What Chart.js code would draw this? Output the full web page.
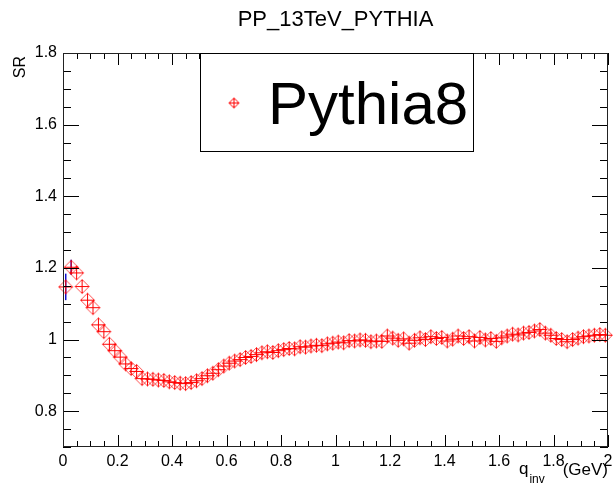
<!DOCTYPE html>
<html>
<head>
<meta charset="utf-8">
<script src="https://cdn.jsdelivr.net/npm/chart.js@4.4.1/dist/chart.umd.min.js"></script>
<style>
  html, body { margin: 0; padding: 0; background: #fff; }
  #wrap { width: 613px; height: 488px; }
</style>
</head>
<body>
<div id="wrap"><canvas id="c" width="613" height="488"></canvas></div>
<script>
// bin centres (GeV) and SR values
const qinv = [
  0.01, 0.03, 0.05, 0.07, 0.09, 0.11, 0.13, 0.15, 0.17, 0.19,
  0.21, 0.23, 0.25, 0.27, 0.29, 0.31, 0.33, 0.35, 0.37, 0.39,
  0.41, 0.43, 0.45, 0.47, 0.49, 0.51, 0.53, 0.55, 0.57, 0.59,
  0.61, 0.63, 0.65, 0.67, 0.69, 0.71, 0.73, 0.75, 0.77, 0.79,
  0.81, 0.83, 0.85, 0.87, 0.89, 0.91, 0.93, 0.95, 0.97, 0.99,
  1.01, 1.03, 1.05, 1.07, 1.09, 1.11, 1.13, 1.15, 1.17, 1.19,
  1.21, 1.23, 1.25, 1.27, 1.29, 1.31, 1.33, 1.35, 1.37, 1.39,
  1.41, 1.43, 1.45, 1.47, 1.49, 1.51, 1.53, 1.55, 1.57, 1.59,
  1.61, 1.63, 1.65, 1.67, 1.69, 1.71, 1.73, 1.75, 1.77, 1.79,
  1.81, 1.83, 1.85, 1.87, 1.89, 1.91, 1.93, 1.95, 1.97, 1.99
];
const srPythia8 = [
  1.147, 1.202, 1.186, 1.148, 1.110, 1.089, 1.041, 1.022, 0.987, 0.969,
  0.951, 0.932, 0.919, 0.911, 0.891, 0.890, 0.889, 0.887, 0.886, 0.882,
  0.880, 0.878, 0.877, 0.880, 0.885, 0.891, 0.899, 0.906, 0.916, 0.926,
  0.934, 0.940, 0.944, 0.950, 0.953, 0.958, 0.963, 0.966, 0.964, 0.969,
  0.972, 0.975, 0.974, 0.980, 0.979, 0.982, 0.984, 0.983, 0.988, 0.990,
  0.993, 0.991, 0.997, 0.996, 0.999, 0.998, 0.994, 0.996, 0.995, 1.010,
  1.004, 0.998, 1.002, 0.990, 0.998, 1.005, 1.000, 1.008, 1.003, 1.006,
  0.996, 1.001, 1.010, 1.003, 1.008, 0.996, 1.006, 0.999, 1.003, 0.995,
  1.005, 1.010, 1.015, 1.013, 1.018, 1.020, 1.024, 1.028, 1.018, 1.012,
  1.003, 1.000, 0.994, 1.000, 1.004, 1.008, 1.010, 1.012, 1.014, 1.012
];
// visible vertical errors (first bins only, others hidden by the markers)
const srErrors = [0.037, 0.021];

const xTicks = [0, 0.2, 0.4, 0.6, 0.8, 1, 1.2, 1.4, 1.6, 1.8, 2];
const yTicks = [0.8, 1, 1.2, 1.4, 1.6, 1.8];

const FONT = '"Liberation Sans", Arial, Helvetica, sans-serif';

function makeMarker(r, alpha) {
  const s = 2 * r + 3;
  const c = document.createElement('canvas');
  c.width = s; c.height = s;
  const g = c.getContext('2d');
  const m = s / 2;
  g.lineWidth = 1;
  g.strokeStyle = 'rgba(255,0,0,' + alpha + ')';
  g.beginPath();
  g.moveTo(m, m - r); g.lineTo(m + r, m); g.lineTo(m, m + r); g.lineTo(m - r, m);
  g.closePath();
  g.stroke();
  g.strokeStyle = '#ff0000';
  g.beginPath();
  g.moveTo(m - r, m); g.lineTo(m + r, m);
  g.moveTo(m, m - r); g.lineTo(m, m + r);
  g.stroke();
  return c;
}

const pointMarker = makeMarker(7, 0.7);
const legendMarker = makeMarker(5, 1);

// ROOT style frame: inward ticks on all four sides, legend box, titles
const rootStyle = {
  id: 'rootStyle',
  beforeDatasetsDraw(chart) {
    const ctx = chart.ctx, xs = chart.scales.x, ys = chart.scales.y;
    ctx.save();
    ctx.strokeStyle = '#1010d0';
    ctx.lineWidth = 1.5;
    srErrors.forEach((e, i) => {
      const px = xs.getPixelForValue(qinv[i]);
      ctx.beginPath();
      ctx.moveTo(px, ys.getPixelForValue(srPythia8[i] - e));
      ctx.lineTo(px, ys.getPixelForValue(srPythia8[i] + e));
      ctx.stroke();
    });
    ctx.restore();
  },
  afterDraw(chart) {
    const ctx = chart.ctx, a = chart.chartArea;
    const xs = chart.scales.x, ys = chart.scales.y;
    ctx.save();
    ctx.strokeStyle = '#000';
    ctx.lineWidth = 1;

    // x ticks (major every 0.2, minor every 0.05)
    for (let k = 0; k <= 40; k++) {
      const v = k * 0.05;
      const px = Math.round(xs.getPixelForValue(v)) + 0.5;
      const len = k % 4 === 0 ? 12 : 6;
      ctx.beginPath();
      ctx.moveTo(px, a.bottom); ctx.lineTo(px, a.bottom - len);
      ctx.moveTo(px, a.top); ctx.lineTo(px, a.top + len);
      ctx.stroke();
    }
    // y ticks (major every 0.2, minor every 0.05)
    for (let k = 0; k <= 22; k++) {
      const v = 0.7 + k * 0.05;
      const py = Math.round(ys.getPixelForValue(v)) + 0.5;
      const major = Math.abs(((v - 0.8) / 0.2) - Math.round((v - 0.8) / 0.2)) < 1e-6;
      const len = major ? 16 : 8;
      ctx.beginPath();
      ctx.moveTo(a.left, py); ctx.lineTo(a.left + len, py);
      ctx.moveTo(a.right, py); ctx.lineTo(a.right - len, py);
      ctx.stroke();
    }
    // frame
    ctx.strokeStyle = '#222';
    ctx.strokeRect(Math.round(a.left) + 0.5, Math.round(a.top) + 0.5,
      Math.round(a.right - a.left) - 1, Math.round(a.bottom - a.top) - 1);

    // legend
    ctx.fillStyle = '#fff';
    ctx.fillRect(200, 53, 273, 98);
    ctx.strokeStyle = '#000';
    ctx.strokeRect(200.5, 53.5, 273, 98);
    ctx.drawImage(legendMarker, 234 - legendMarker.width / 2, 103 - legendMarker.height / 2);
    ctx.fillStyle = '#000';
    ctx.font = '60px ' + FONT;
    ctx.textAlign = 'left';
    ctx.textBaseline = 'alphabetic';
    ctx.fillText('Pythia8', 268, 124);

    // title
    ctx.font = '22px ' + FONT;
    ctx.textAlign = 'center';
    ctx.fillText('PP_13TeV_PYTHIA', (a.left + a.right) / 2, 26);

    // y axis title
    ctx.save();
    ctx.font = '16px ' + FONT;
    ctx.translate(25, a.top + 3);
    ctx.rotate(-Math.PI / 2);
    ctx.textAlign = 'right';
    ctx.fillText('SR', 0, 0);
    ctx.restore();

    // x axis title: q_inv (GeV)
    ctx.font = '17px ' + FONT;
    ctx.textAlign = 'right';
    ctx.fillText('(GeV)', a.right, 475);
    ctx.textAlign = 'left';
    ctx.fillText('q', 519, 474);
    const wq = ctx.measureText('q').width;
    ctx.font = '12px ' + FONT;
    ctx.fillText('inv', 520 + wq, 483);
    ctx.restore();
  }
};

new Chart(document.getElementById('c'), {
  type: 'scatter',
  data: {
    datasets: [{
      label: 'Pythia8',
      data: qinv.map((q, i) => ({ x: q, y: srPythia8[i] })),
      pointStyle: pointMarker,
      clip: false,
      showLine: false
    }]
  },
  options: {
    responsive: false,
    animation: false,
    devicePixelRatio: 1,
    layout: { padding: { top: 53, right: 2, left: 0, bottom: 0 } },
    plugins: {
      legend: { display: false },
      title: { display: false },
      tooltip: { enabled: false }
    },
    scales: {
      x: {
        type: 'linear',
        min: 0,
        max: 2,
        grid: { display: false, drawTicks: false },
        border: { display: false },
        afterBuildTicks: s => { s.ticks = xTicks.map(v => ({ value: v })); },
        afterFit: s => { s.height = 41; s.paddingLeft = 0; s.paddingRight = 0; },
        ticks: {
          padding: 5,
          color: '#000',
          maxRotation: 0,
          font: { family: FONT, size: 16 },
          callback: v => String(+v.toFixed(2))
        }
      },
      y: {
        type: 'linear',
        min: 0.7,
        max: 1.8,
        grid: { display: false, drawTicks: false },
        border: { display: false },
        afterBuildTicks: s => { s.ticks = yTicks.map(v => ({ value: v })); },
        afterFit: s => { s.width = 63; },
        ticks: {
          padding: 6,
          color: '#000',
          font: { family: FONT, size: 16 },
          callback: v => String(+v.toFixed(2))
        }
      }
    }
  },
  plugins: [rootStyle]
});
</script>
</body>
</html>
